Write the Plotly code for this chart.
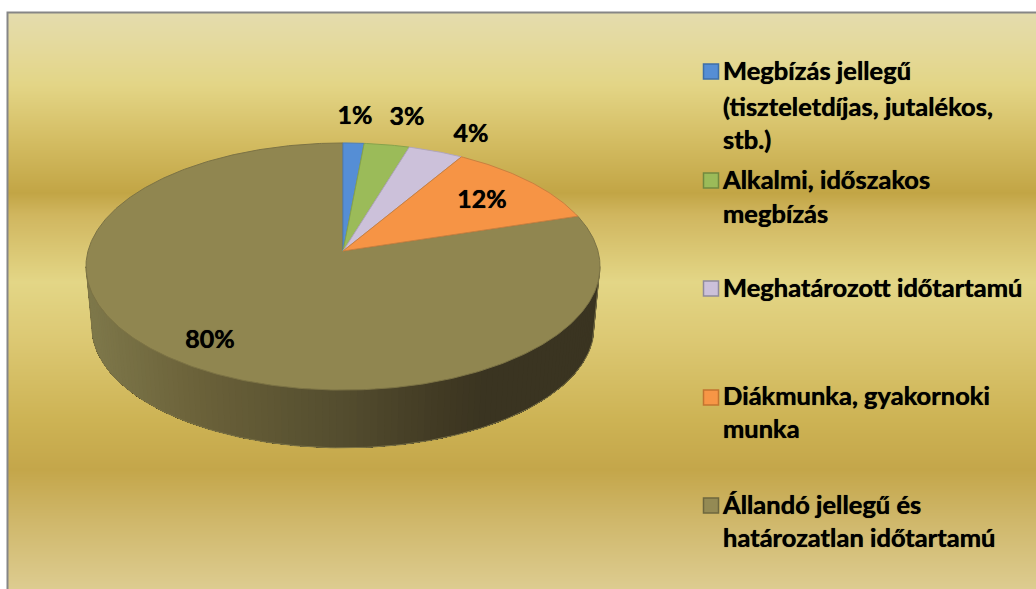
"""Employment type pie, drawn in 3D look on a gold banded background."""

import numpy as np
import plotly.graph_objects as go

# data
shares = [1.49, 3.21, 3.9, 11.6, 79.8]
share_labels = ['1%', '3%', '4%', '12%', '80%']
categories = [
    ['Megbízás jellegű', '(tiszteletdíjas, jutalékos,', 'stb.)'],
    ['Alkalmi, időszakos', 'megbízás'],
    ['Meghatározott időtartamú'],
    ['Diákmunka, gyakornoki', 'munka'],
    ['Állandó jellegű és', 'határozatlan időtartamú'],
]

# styles
face_colors = ['#558ED5', '#9BBB59', '#CCC1DA', '#F69445', '#908650']
edge_colors = ['#4A7DBB', '#86A34C', '#B0A6BD', '#C98040', '#7C7345']
swatch_colors = ['#558ED5', '#9BBB59', '#CCC1DA', '#F79646', '#948A54']
swatch_edges = ['#3E6FA8', '#71893F', '#8F8A9C', '#C3742F', '#6E673E']
FONT = 'Lato'
TEXT_SHADOW = '0 0 0.7px #000000'

# pixel layout
W, H = 1036, 589
CX, CY = 343, 251
A, B, K = 255, 121.6, 0.1256
DROP, SHRINK = 61, 0.977
label_x = [355, 407, 471, 482, 210]
label_y = [118, 119, 136, 202, 342]
swatch_x = 711
swatch_y = [71.5, 180.5, 288.5, 397.5, 505.5]
line_y = [[74, 110, 143], [183, 217], [291], [399, 432], [508, 541]]
legend_text_x = 723

bg_stops = [(12, '#E4DCAE'), (50, '#E4D99A'), (85, '#E3D586'), (140, '#D4BD63'),
            (193, '#C2A545'), (215, '#D0B65F'), (282, '#E3D686'), (340, '#DCC873'),
            (420, '#CDB354'), (470, '#C4A64A'), (520, '#CFB76A'), (589, '#DDCC90')]
side_stops = [(86, (127, 121, 75)), (200, (107, 98, 58)), (343, (84, 77, 47)),
              (450, (64, 57, 35)), (490, (58, 52, 33)), (600, (58, 52, 33))]


def project(theta, scale=1.0, drop=0.0):
    """Pie angle (radians, clockwise from the back) to pixel position."""
    w = 1 + K * np.cos(theta)
    x = CX + scale * A * np.sin(theta) / w
    y = CY + drop - scale * B * np.cos(theta) / w
    return x, y


def side_color(x):
    rgb = [np.interp(x, [s[0] for s in side_stops], [s[1][i] for s in side_stops]) for i in range(3)]
    return 'rgb(%d,%d,%d)' % tuple(rgb)


fig = go.Figure()

# background gradient
edges = np.arange(12, H + 1)
mids = (edges[:-1] + edges[1:]) / 2
scale = [[(y - 12) / (H - 12), c] for y, c in bg_stops]
fig.add_trace(go.Heatmap(
    x=[8, W], y=edges, z=[[m] for m in mids], zmin=12, zmax=H,
    colorscale=scale, showscale=False, hoverinfo='skip',
))

# rim of the pie: overlapping bands painted right to left so no seams show
theta_left = 2 * np.pi - np.arccos(-K)
theta_right = np.arccos(-K)
steps = np.linspace(theta_right, theta_left, 121)
for n, t0 in enumerate(steps[:-1]):
    t = steps[n:]
    xt, yt = project(t)
    xd, yd = project(t[::-1], SHRINK, DROP)
    color = side_color(xt[0] if xt[0] < 343 else (xt[0] + xt[1]) / 2)
    fig.add_trace(go.Scatter(
        x=[*xt, *xd, xt[0]], y=[*yt, *yd, yt[0]], mode='lines',
        fill='toself', fillcolor=color, line=dict(color=color, width=0),
        hoverinfo='skip', showlegend=False,
    ))

# rim outline
tb = np.linspace(theta_right, theta_left, 160)
xb, yb = project(tb, SHRINK, DROP)
xr, yr = project(theta_right)
xl, yl = project(theta_left)
fig.add_trace(go.Scatter(
    x=[xr, *xb, xl], y=[yr, *yb, yl], mode='lines',
    line=dict(color='#7C7345', width=1), hoverinfo='skip', showlegend=False,
))

# top face, one wedge per share
bounds = np.cumsum([0] + shares) / sum(shares) * 2 * np.pi
for i in [4, 0, 1, 2, 3]:
    t = np.linspace(bounds[i], bounds[i + 1], max(4, int(shares[i] * 6)))
    x, y = project(t)
    fig.add_trace(go.Scatter(
        x=[CX, *x, CX], y=[CY, *y, CY], mode='lines', fill='toself',
        fillcolor=face_colors[i], line=dict(color=edge_colors[i], width=1),
        hoverinfo='skip', showlegend=False,
    ))

# data labels
fig.add_trace(go.Scatter(
    x=label_x, y=label_y, mode='text', text=share_labels, textposition='middle center',
    textfont=dict(family=FONT, size=25, color='#000000', weight='bold', shadow=TEXT_SHADOW),
    hoverinfo='skip', showlegend=False,
))

# legend
fig.add_trace(go.Scatter(
    x=[swatch_x] * 5, y=swatch_y, mode='markers',
    marker=dict(symbol='square', size=15, color=swatch_colors, line=dict(color=swatch_edges, width=1.5)),
    hoverinfo='skip', showlegend=False,
))
for lines, ys in zip(categories, line_y):
    fig.add_trace(go.Scatter(
        x=[legend_text_x] * len(lines), y=ys, mode='text', text=lines, textposition='middle right',
        textfont=dict(family=FONT, size=25.5, color='#000000', weight='bold', shadow=TEXT_SHADOW),
        hoverinfo='skip', showlegend=False,
    ))

fig.update_layout(
    width=W, height=H,
    margin=dict(l=0, r=0, t=0, b=0),
    paper_bgcolor='white', plot_bgcolor='white',
    xaxis=dict(range=[0, W], visible=False, fixedrange=True),
    yaxis=dict(range=[H, 0], visible=False, fixedrange=True),
    shapes=[dict(type='path', path=f'M 7.5 {H} L 7.5 12.5 L {W} 12.5',
                 line=dict(color='#868686', width=2), layer='above')],
)

# the page's default body margin would shift the figure by 8 px
fig.write_html("out.html", config=dict(displayModeBar=False),
               post_script="document.body.style.margin='0';")
